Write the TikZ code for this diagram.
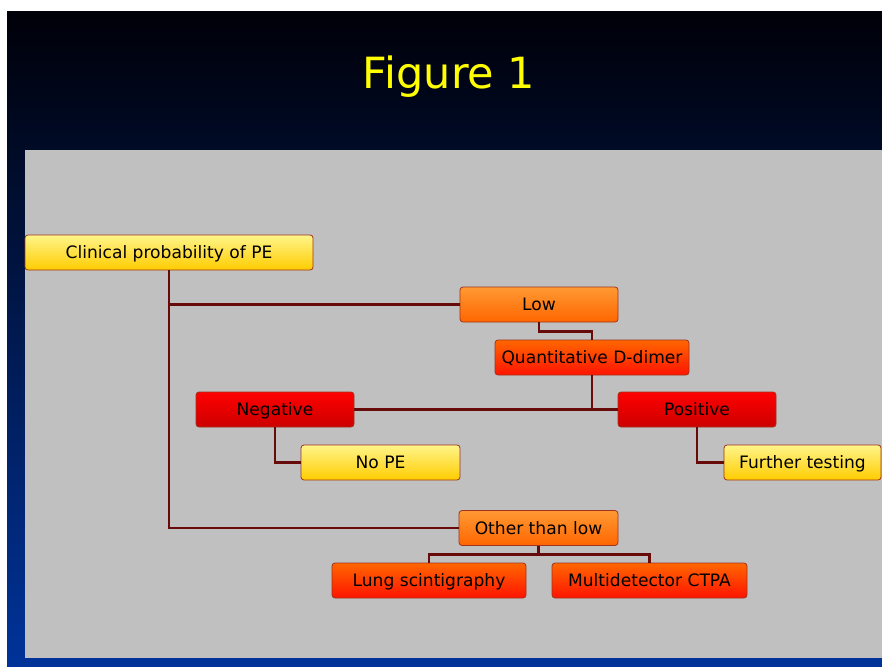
\documentclass[tikz,border=0pt]{standalone}
\usepackage{fontspec}
\setmainfont{DejaVu Sans}
\usepackage{tikz}
\usetikzlibrary{positioning}
\definecolor{F1Navy}{HTML}{003399}
\definecolor{F1Dark}{HTML}{000008}
\definecolor{F1Mid}{HTML}{00206A}
\definecolor{F1Gray}{HTML}{C0C0C0}
\definecolor{F1Title}{HTML}{FFFF00}
\definecolor{F1Line}{HTML}{660A0A}
\definecolor{F1Edge}{HTML}{A0341E}
\definecolor{F1YelTop}{HTML}{FFF58A}
\definecolor{F1YelBot}{HTML}{FFCC00}
\definecolor{F1OraTop}{HTML}{FF9933}
\definecolor{F1OraBot}{HTML}{FF6600}
\definecolor{F1RedTop}{HTML}{FF6600}
\definecolor{F1RedBot}{HTML}{FF1400}
\definecolor{F1CrimTop}{HTML}{FF0000}
\definecolor{F1CrimBot}{HTML}{CC0000}

\begin{document}
\begin{tikzpicture}[
  x=1pt,y=-1pt,
  box/.style={draw=F1Edge,line width=0.8pt,rounded corners=3pt,minimum height=35pt,inner sep=0pt,
    text height=12.5pt,text depth=0pt,font=\fontsize{17.1}{20}\selectfont,text=black},
  yel/.style={box,top color=F1YelTop,bottom color=F1YelBot},
  ora/.style={box,top color=F1OraTop,bottom color=F1OraBot},
  redo/.style={box,top color=F1RedTop,bottom color=F1RedBot},
  crim/.style={box,top color=F1CrimTop,bottom color=F1CrimBot},
  link/.style={draw=F1Line,line width=2.4pt}
]
\useasboundingbox (0,0) rectangle (882,666);
\fill[white] (0,0) rectangle (882,666);
% slide background and panel
\shade[top color=F1Dark,middle color=F1Mid,bottom color=F1Navy] (7,12) rectangle (882,666);
\fill[F1Gray] (25,150) rectangle (882,658);
\node[text=F1Title,font=\fontsize{43}{50}\selectfont,anchor=base,inner sep=0pt] (title) at (449,89) {Figure 1};

\node[yel,minimum width=288pt] (clin) at (169,252.5) {Clinical probability of PE};
\node[ora,minimum width=158pt] (low) at (539,304.5) {Low};
\node[redo,minimum width=194pt] (qd) at (592,357.5) {Quantitative D-dimer};
\node[crim,minimum width=158pt] (neg) at (275,409.5) {Negative};
\node[crim,minimum width=158pt] (pos) at (697,409.5) {Positive};
\node[yel,minimum width=159pt] (nope) at (380.5,462.5) {No PE};
\node[yel,minimum width=157pt] (further) at (802.5,462.5) {Further testing};
\node[ora,minimum width=159pt] (other) at (538.5,528) {Other than low};
\node[redo,minimum width=194pt] (lung) at (429,580.5) {Lung scintigraphy};
\node[redo,minimum width=195pt] (ctpa) at (649.5,580.5) {Multidetector CTPA};

\draw[link] (clin.south) |- (low.west);
\draw[link] (clin.south) |- (other.west);
\draw[link] (low.south) -- ++(0,9) -| (qd.north);
\draw[link] (qd.south) -- (qd.south |- neg.east);
\draw[link] (neg.east) -- (pos.west);
\draw[link] (neg.south) |- (nope.west);
\draw[link] (pos.south) |- (further.west);
\draw[link] (other.south) -- ++(0,8.5) -| (lung.north);
\draw[link] (other.south) -- ++(0,8.5) -| (ctpa.north);
\end{tikzpicture}
\end{document}
